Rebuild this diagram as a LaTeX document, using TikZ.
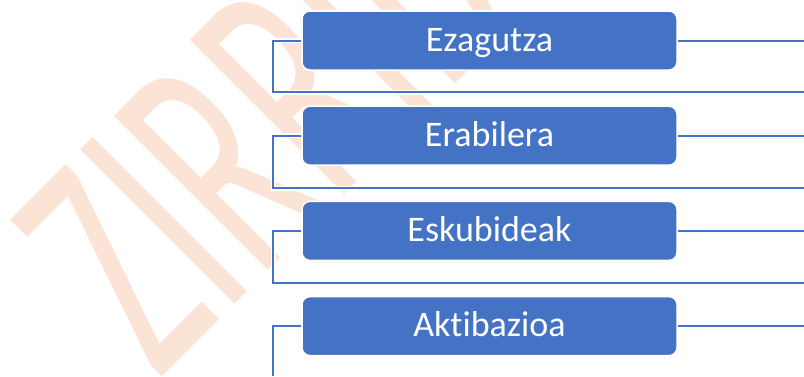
\documentclass[tikz,border=0pt]{standalone}
\usepackage{fontspec}
\usepackage{graphicx}
\setmainfont{Carlito}[Ligatures=NoCommon]
\definecolor{boxblue}{HTML}{4472C4}
\definecolor{wmcol}{HTML}{FBE4D6}
\begin{document}
\begin{tikzpicture}[x=1pt,y=-1pt,
  box/.style={draw=white, line width=1.5pt, fill=boxblue, rounded corners=8pt,
    minimum width=375pt, minimum height=59pt, inner sep=0pt,
    text height=21pt, text depth=0pt,
    text=white, font=\fontsize{36}{36}\selectfont},
  link/.style={draw=boxblue, line width=2pt, preaction={draw=white, line width=5pt}},
  watermark/.style={anchor=base west, rotate=45, inner sep=0pt, text=wmcol,
    font=\fontsize{340}{340}\selectfont}]
\useasboundingbox (0,0) rectangle (804,376);
\fill[white] (0,0) rectangle (804,376);
\begin{scope}
  \clip (0,0) rectangle (804,376);
  \node[watermark] (wm) at (158,381) {\scalebox{0.58}[1]{ZIRRIBORROA}};
\end{scope}
% boxes
\node[box] (b1) at (489.5,40.5) {Ezagutza};
\node[box] (b2) at (489.5,135.7) {Erabilera};
\node[box] (b3) at (489.5,230.9) {Eskubideak};
\node[box] (b4) at (489.5,326.1) {Aktibazioa};
% free ends
\coordinate (r1) at (804,40.5);
\coordinate (r2) at (804,135.7);
\coordinate (r3) at (804,230.9);
\coordinate (r4) at (804,326.1);
\coordinate (k1) at (804,92);
\coordinate (k2) at (804,188);
\coordinate (k3) at (804,283);
\coordinate (k4) at (273,376);
% connectors
\draw[link] (b1.east) -- (r1);
\draw[link] (b2.east) -- (r2);
\draw[link] (b3.east) -- (r3);
\draw[link] (b4.east) -- (r4);
\draw[link] (b1.west) -- ++(-28,0) |- (k1);
\draw[link] (b2.west) -- ++(-28,0) |- (k2);
\draw[link] (b3.west) -- ++(-28,0) |- (k3);
\draw[link] (b4.west) -| (k4);
\end{tikzpicture}
\end{document}
